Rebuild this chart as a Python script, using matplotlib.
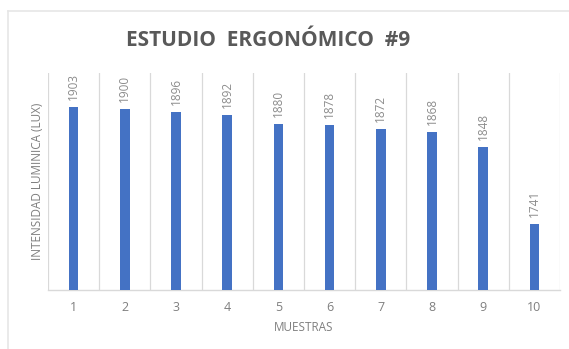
import matplotlib
matplotlib.use("Agg")
import matplotlib.pyplot as plt
from matplotlib.lines import Line2D

muestras = ["1", "2", "3", "4", "5", "6", "7", "8", "9", "10"]
lux = [1903, 1900, 1896, 1892, 1880, 1878, 1872, 1868, 1848, 1741]

W, H = 569, 349
fig = plt.figure(figsize=(W / 100, H / 100), dpi=100)
fig.patch.set_facecolor("white")

# chart frame (top and left edges visible)
fig.add_artist(Line2D([8 / W, 8 / W], [0, 1 - 11 / H], color="#e6e6e6", lw=1.2,
                      transform=fig.transFigure))
fig.add_artist(Line2D([8 / W, 1], [1 - 11 / H, 1 - 11 / H], color="#e6e6e6", lw=1.2,
                      transform=fig.transFigure))

ax = fig.add_axes([48 / W, (H - 290) / H, 512 / W, (290 - 73) / H])
x = list(range(1, len(lux) + 1))
bars = ax.bar(x, lux, width=0.185, color="#4472C4", zorder=3)

ax.set_xlim(0.5, len(lux) + 0.5)
ax.set_ylim(1650, 1950)

# vertical separators between categories
for b in [i + 0.5 for i in range(len(lux) + 1)]:
    ax.axvline(b, color="#d9d9d9", lw=0.9, zorder=1)

for s in ["top", "right", "left"]:
    ax.spines[s].set_visible(False)
ax.spines["bottom"].set_color("#d9d9d9")
ax.spines["bottom"].set_linewidth(1.0)

ax.set_yticks([])
ax.set_xticks(x)
ax.set_xticklabels(muestras, color="#7f7f7f", fontsize=9, family="Open Sans")
ax.tick_params(axis="x", length=0, pad=8)

for xi, v in zip(x, lux):
    ax.annotate(str(v), (xi, v), xytext=(0, 5), textcoords="offset points",
                rotation=90, ha="center", va="bottom", color="#8c8c8c",
                fontsize=8.5, family="Open Sans")

ax.set_xlabel("MUESTRAS", color="#7f7f7f", fontsize=8.5, family="Open Sans", labelpad=5)
ax.set_ylabel("INTENSIDAD LUMINICA (LUX)", color="#7f7f7f", fontsize=8.5,
              family="Open Sans", labelpad=3)

fig.text(268 / W, 1 - 41 / H, "ESTUDIO  ERGONÓMICO  #9",
         ha="center", va="center", fontsize=15, fontweight="bold",
         color="#595959", family="Open Sans")

fig.savefig("out.png", dpi=100, facecolor="white")
